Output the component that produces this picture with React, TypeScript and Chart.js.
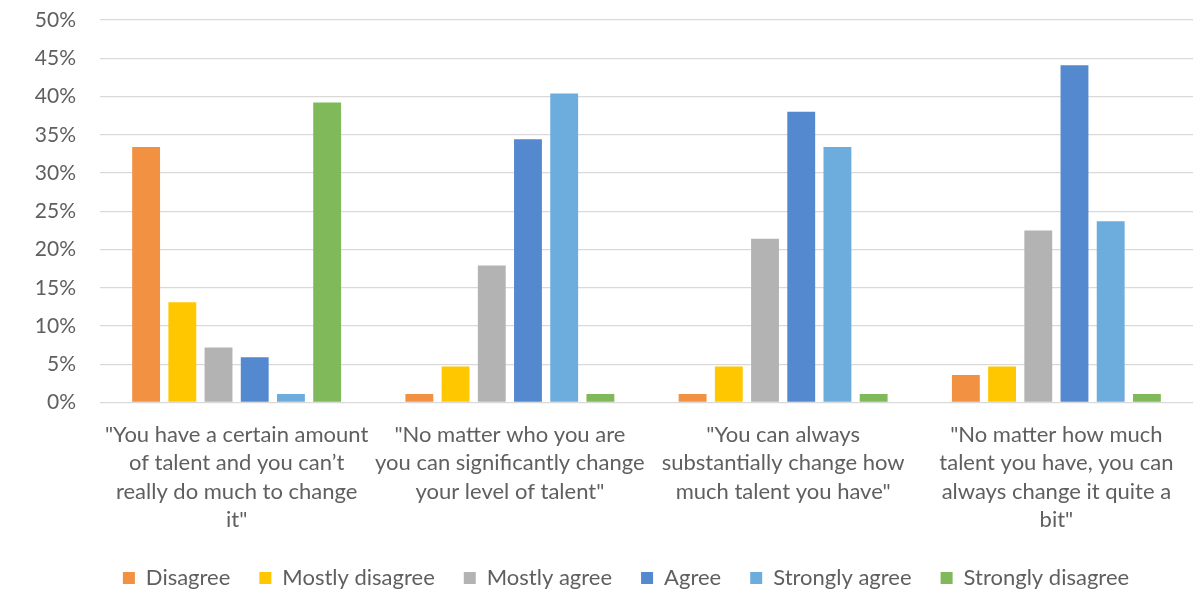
import React, { useEffect, useRef } from "react";
import { Chart, registerables } from "chart.js";

Chart.register(...registerables);

const categories: string[][] = [
  ['"You have a certain amount', "of talent and you can\u2019t", "really do much to change", 'it"'],
  ['"No matter who you are', "you can significantly change", 'your level of talent"'],
  ['"You can always', "substantially change how", 'much talent you have"'],
  ['"No matter how much', "talent you have, you can", "always change it quite a", 'bit"'],
];

const seriesNames = ["Disagree", "Mostly disagree", "Mostly agree", "Agree", "Strongly agree", "Strongly disagree"];
const seriesColors = ["#F19141", "#FFC700", "#B3B3B3", "#5488CF", "#6DADDD", "#80B95A"];

const disagree = [33.4, 1.1, 1.1, 3.6];
const mostlyDisagree = [13.1, 4.7, 4.7, 4.7];
const mostlyAgree = [7.2, 17.9, 21.4, 22.5];
const agree = [5.9, 34.4, 38.0, 44.1];
const stronglyAgree = [1.1, 40.4, 33.4, 23.7];
const stronglyDisagree = [39.2, 1.1, 1.1, 1.1];

const seriesValues = [disagree, mostlyDisagree, mostlyAgree, agree, stronglyAgree, stronglyDisagree];

const yMax = 50;
const yStep = 5;

const FONT = "Lato, 'Open Sans', sans-serif";
const TEXT = "#5f5f5f";

// shifts the legend horizontally so it is centred like the reference
const legendShift = {
  id: "legendShift",
  afterLayout(chart: any) {
    const lg = chart.legend;
    if (lg) {
      lg.left += 29.5;
      lg.right += 29.5;
    }
  },
};

export default function App() {
  const ref = useRef<HTMLCanvasElement | null>(null);

  useEffect(() => {
    if (!ref.current) return;
    const chart = new Chart(ref.current, {
      type: "bar",
      data: {
        labels: categories,
        datasets: seriesNames.map((name, i) => ({
          label: name,
          data: seriesValues[i],
          backgroundColor: seriesColors[i],
          borderWidth: 0,
          categoryPercentage: 0.795,
          barPercentage: 0.77,
        })),
      },
      options: {
        animation: false,
        responsive: false,
        maintainAspectRatio: false,
        layout: { padding: { left: 0, right: 5, top: 20, bottom: -5 } },
        plugins: {
          tooltip: { enabled: false },
          legend: {
            position: "bottom",
            labels: {
              boxWidth: 12,
              boxHeight: 12,
              padding: 29,
              color: TEXT,
              font: { family: FONT, size: 22 },
            },
          },
        },
        scales: {
          x: {
            grid: { display: false, drawTicks: false, tickLength: 0 },
            border: { display: false },
            ticks: {
              color: TEXT,
              font: { family: FONT, size: 22, lineHeight: "28.4px" } as any,
              padding: 18,
              maxRotation: 0,
              autoSkip: false,
            },
            afterFit: (scale: any) => {
              scale.height = 135.5;
            },
          },
          y: {
            min: 0,
            max: yMax,
            grid: { color: "#d9d9d9", lineWidth: 1.3, drawTicks: false, tickLength: 0 },
            border: { display: false },
            ticks: {
              stepSize: yStep,
              color: TEXT,
              padding: 24,
              font: { family: FONT, size: 21 },
              callback: (v: any) => `${v}%`,
            },
            afterFit: (scale: any) => {
              scale.width = 100;
              scale.paddingTop = 0;
              scale.paddingBottom = 0;
            },
          },
        },
      },
      plugins: [legendShift],
    });
    return () => chart.destroy();
  }, []);

  return (
    <div style={{ position: "fixed", left: 0, top: 0, width: 1198, height: 594, background: "#fff" }}>
      <canvas ref={ref} width={1198} height={594} style={{ width: 1198, height: 594, display: "block" }} />
    </div>
  );
}
